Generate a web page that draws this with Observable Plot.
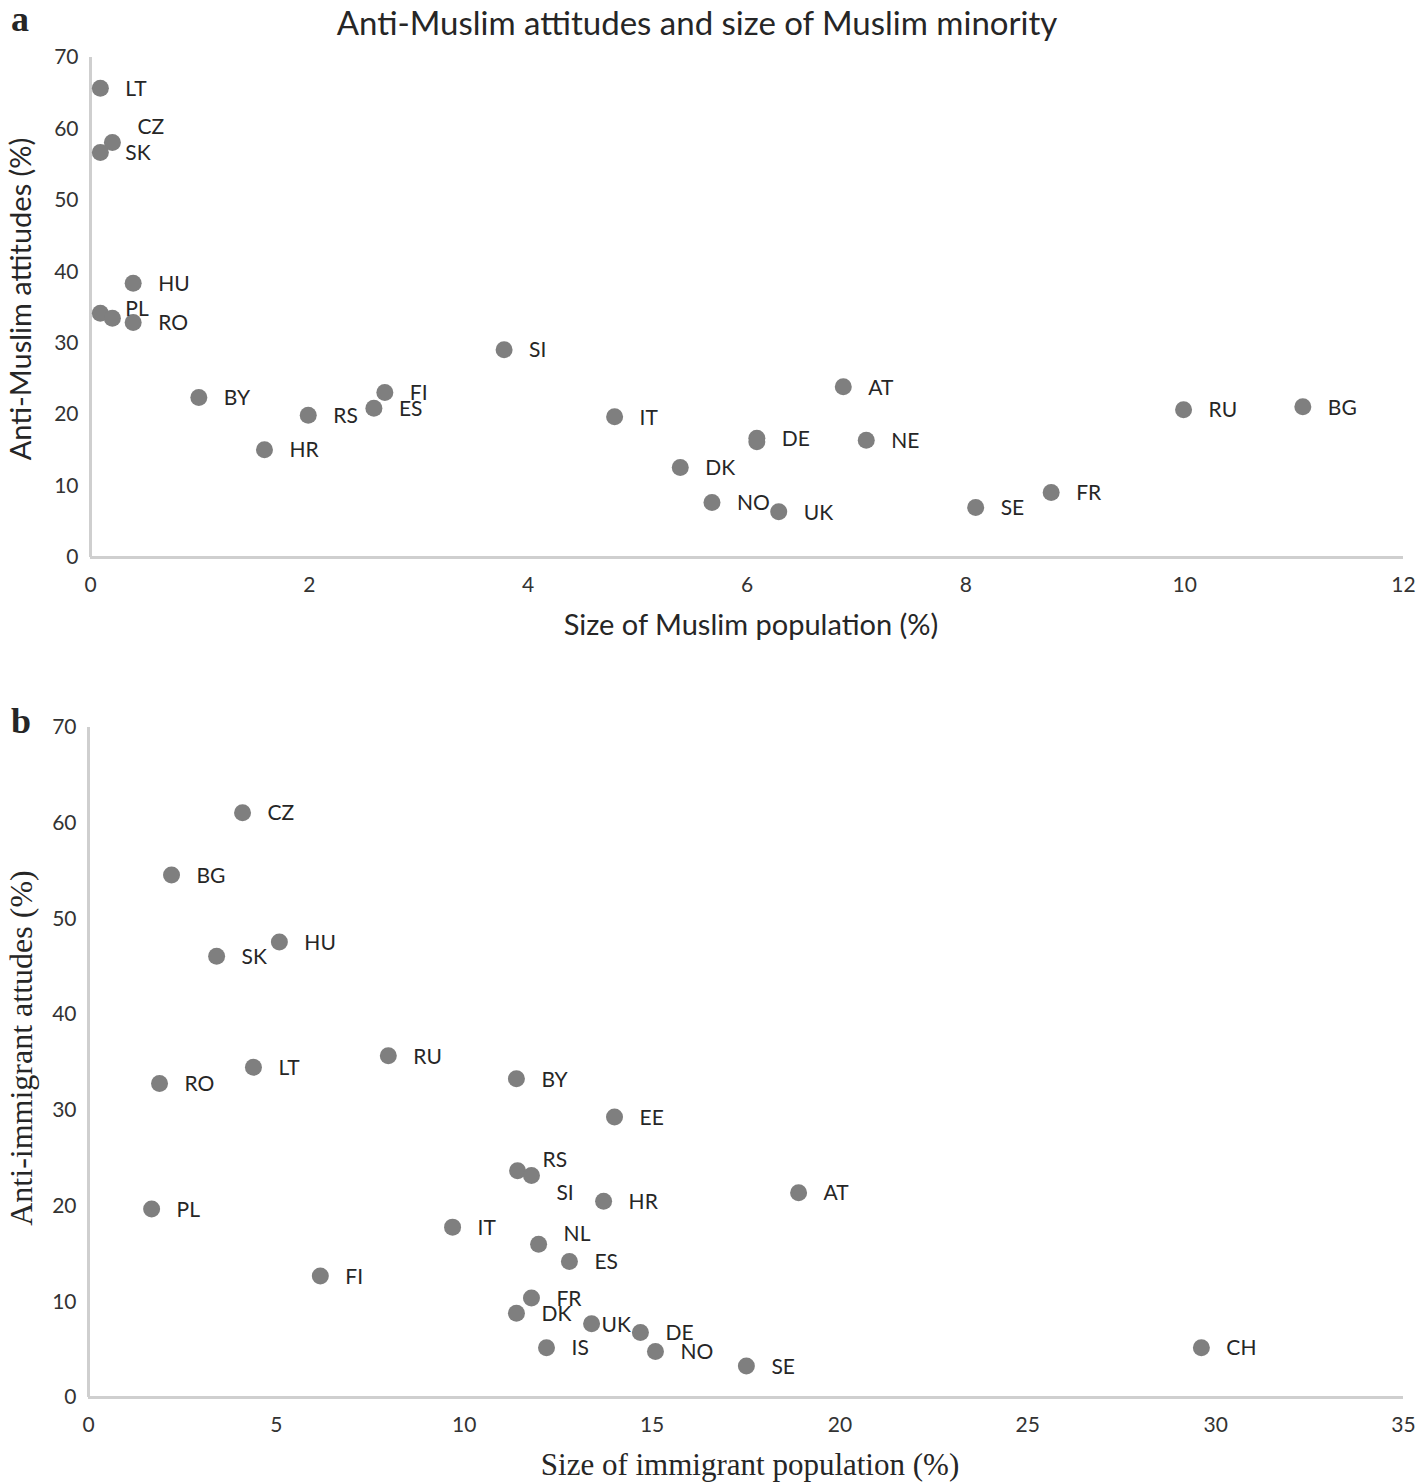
<!DOCTYPE html>
<html><head><meta charset="utf-8">
<script src="https://cdn.jsdelivr.net/npm/d3@7"></script>
<script src="https://cdn.jsdelivr.net/npm/@observablehq/plot@0.6"></script>
<style>
body{margin:0;background:#fff;}
#root{position:relative;width:1416px;height:1484px;overflow:hidden;background:#fff;}
.abs{position:absolute;white-space:nowrap;line-height:1;}
.sans{font-family:Lato,"Open Sans",sans-serif;color:#262626;}
.serif{font-family:"Liberation Serif","DejaVu Serif",serif;color:#262626;}
.panel{position:absolute;left:0;}
</style></head><body><div id="root"></div>
<script>
// ---- Panel a: Anti-Muslim attitudes vs size of Muslim population ----
const muslimCountries = ["LT","CZ","SK","HU","PL","","RO","SI","BY","FI","ES","RS","HR","IT","AT","DE","","NE","DK","NO","UK","SE","FR","RU","BG"];
const muslimSize      = [0.09,0.20,0.09,0.39,0.09,0.20,0.39,3.78,0.99,2.69,2.59,1.99,1.59,4.79,6.88,6.09,6.09,7.09,5.39,5.68,6.29,8.09,8.78,9.99,11.08];
const antiMuslim      = [65.7,58.1,56.7,38.4,34.2,33.5,32.9,29.1,22.4,23.1,20.9,19.9,15.1,19.7,23.9,16.7,16.2,16.4,12.6,7.7,6.4,7.0,9.1,20.7,21.1];

// ---- Panel b: Anti-immigrant attitudes vs size of immigrant population ----
const immCountries = ["CZ","BG","HU","SK","RU","LT","RO","BY","EE","RS","SI","HR","AT","PL","IT","NL","ES","FI","FR","DK","UK","DE","IS","NO","SE","CH"];
const immSize      = [4.10,2.21,5.08,3.41,7.98,4.39,1.89,11.39,14.0,11.42,11.79,13.71,18.9,1.68,9.69,11.98,12.8,6.17,11.79,11.39,13.39,14.69,12.19,15.09,17.51,29.62];
const antiImm      = [61.1,54.6,47.6,46.1,35.7,34.5,32.8,33.3,29.3,23.7,23.2,20.5,21.4,19.7,17.8,16.0,14.2,12.7,10.4,8.8,7.7,6.8,5.2,4.8,3.3,5.2];

const yTicks  = [0,10,20,30,40,50,60,70];
const xTicksA = [0,2,4,6,8,10,12];
const xTicksB = [0,5,10,15,20,25,30,35];

// label nudges (pixels) for crowded labels
const labelNudgeA = {CZ:[0,-16], PL:[0,-5]};
const labelNudgeB = {RS:[0,-11], SI:[0,17], NL:[0,-11], UK:[-15,0]};

const DOT = "#7f7f7f", AXIS = "#cfcfcf", TXT = "#262626";

function panel(names, xs, ys, {xDomain, xTicks, nudges, width, height, mL, mR, mT, mB}) {
  const data = names.map((n,i)=>({n, x:xs[i], y:ys[i]}));
  const marks = [
    Plot.ruleY([0], {stroke: AXIS, strokeWidth: 3}),
    Plot.ruleX([0], {stroke: AXIS, strokeWidth: 3}),
    Plot.axisY({ticks: yTicks, tickSize: 0, tickPadding: 12, fontSize: 21, label: null}),
    Plot.axisX({ticks: xTicks, tickSize: 0, tickPadding: 20, fontSize: 21, label: null}),
    Plot.dot(data, {x:"x", y:"y", r: 8.5, fill: DOT, stroke: "none"}),
    Plot.text(data.filter(d=>d.n && !nudges[d.n]), {x:"x", y:"y", text:"n", dx:25, dy:1, textAnchor:"start", fontSize:21, fill:TXT})
  ];
  for (const [k,[dx,dy]] of Object.entries(nudges)) {
    marks.push(Plot.text(data.filter(d=>d.n===k), {x:"x", y:"y", text:"n", dx:25+dx, dy:1+dy, textAnchor:"start", fontSize:21, fill:TXT}));
  }
  return Plot.plot({
    width, height, marginLeft: mL, marginRight: mR, marginTop: mT, marginBottom: mB,
    x: {domain: xDomain}, y: {domain: [0,70]},
    style: {fontFamily: "Lato, 'Open Sans', sans-serif", color: "#333", background: "#fff"},
    marks
  });
}

const root = document.getElementById("root");
function add(html){ const d=document.createElement("div"); d.innerHTML=html; const e=d.firstElementChild; root.appendChild(e); return e; }

const pa = panel(muslimCountries, muslimSize, antiMuslim,
  {xDomain:[0,12], xTicks:xTicksA, nudges:labelNudgeA, width:1416, height:650, mL:90, mR:13, mT:57, mB:93});
pa.classList.add("panel"); pa.style.top = "0px"; root.appendChild(pa);

const pb = panel(immCountries, immSize, antiImm,
  {xDomain:[0,35], xTicks:xTicksB, nudges:labelNudgeB, width:1416, height:834, mL:88, mR:13, mT:77, mB:87});
pb.classList.add("panel"); pb.style.top = "650px"; root.appendChild(pb);

// Panel letters
add('<div class="abs serif" style="left:11px;top:1px;font-size:36px;font-weight:bold;">a</div>');
add('<div class="abs serif" style="left:11px;top:703px;font-size:36px;font-weight:bold;">b</div>');

// Panel a texts
add('<div class="abs sans" style="left:697px;top:6px;transform:translateX(-50%);font-size:33px;">Anti-Muslim attitudes and size of Muslim minority</div>');
add('<div class="abs sans" style="left:751px;top:609px;transform:translateX(-50%);font-size:29px;">Size of Muslim population (%)</div>');
add('<div class="abs sans" style="left:19px;top:299px;transform:translate(-50%,-50%) rotate(-90deg);font-size:29px;">Anti-Muslim attitudes (%)</div>');

// Panel b texts
add('<div class="abs serif" style="left:750px;top:1449px;transform:translateX(-50%);font-size:31px;">Size of immigrant population (%)</div>');
add('<div class="abs serif" style="left:21px;top:1048px;transform:translate(-50%,-50%) rotate(-90deg);font-size:32px;">Anti-immigrant attudes (%)</div>');
</script></body></html>
